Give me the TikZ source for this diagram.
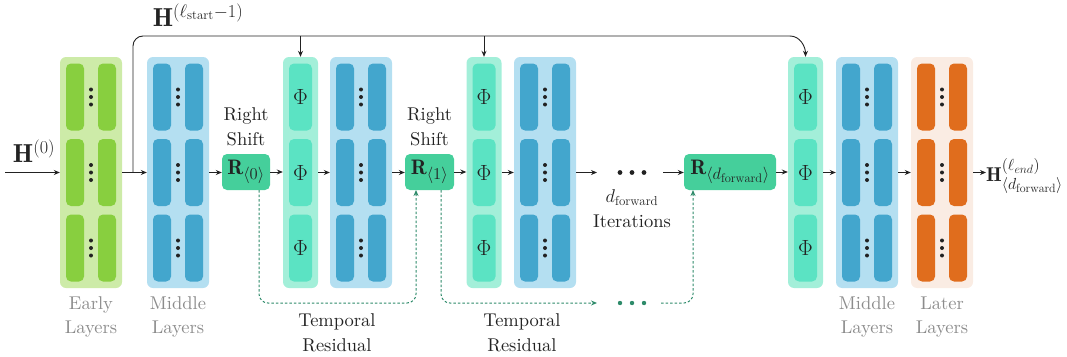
\RequirePackage{fix-cm}
\documentclass[tikz,border=0pt]{standalone}
\usepackage{amsmath}
\usepackage{fontspec}
\usetikzlibrary{arrows.meta}

% captions in the 10pt design of Latin Modern, scaled up
\newfontfamily\capfont[Extension=.otf]{lmroman10-regular}

% roomier sub/superscripts in the large formulas
\DeclareMathSizes{21}{21}{16.5}{12.5}
\DeclareMathSizes{20}{20}{16}{12}
\DeclareMathSizes{22}{22}{16}{12}

\definecolor{earlyout}{HTML}{CDEBA8}
\definecolor{earlyin}{HTML}{88CF3F}
\definecolor{midout}{HTML}{B4DFF1}
\definecolor{midin}{HTML}{43A6CD}
\definecolor{phiout}{HTML}{A3EFD9}
\definecolor{phiin}{HTML}{5BE3C3}
\definecolor{shiftfill}{HTML}{45CF9B}
\definecolor{lateout}{HTML}{FAECE3}
\definecolor{latein}{HTML}{E06D1D}
\definecolor{residcol}{HTML}{2E8B6A}
\definecolor{graytext}{HTML}{8C8C8C}
\definecolor{ink}{HTML}{222222}

\tikzset{
  outerbox/.style={rounded corners=6pt, inner sep=0pt, minimum height=231pt},
  innerbar/.style={rounded corners=5pt, inner sep=0pt, minimum height=67pt},
  shiftbox/.style={fill=shiftfill, rounded corners=5pt, inner sep=0pt, minimum height=36pt,
    font=\fontsize{21}{22}\selectfont, text=ink},
  lbl/.style={inner sep=0pt, align=center, font=\capfont\fontsize{18.5}{24.5}\selectfont, text=ink},
  graylbl/.style={lbl, text=graytext},
  flow/.style={draw=ink, line width=0.9pt, -{Stealth[length=6pt,width=5pt]}},
  resid/.style={draw=residcol, line width=1pt, dash pattern=on 2.5pt off 2pt,
    rounded corners=9pt, -{Stealth[length=6pt,width=5pt]}},
}

% a stack of three rows of two bars with vertical dots between them
\newcommand\layerstack[4]{% name, centre x, outer colour, inner colour
  \node[outerbox, fill=#3, minimum width=62pt] (#1) at (#2,172.5) {};
  \foreach \yy in {97,172.5,248} {
    \node[innerbar, fill=#4, minimum width=18pt] at (#2-16,\yy) {};
    \node[innerbar, fill=#4, minimum width=18pt] at (#2+16,\yy) {};
    \foreach \dd in {-7.5,0,7.5} \fill[ink] (#2,\yy+\dd) circle (2pt);
  }
}
% a column of three Phi blocks
\newcommand\phistack[2]{% name, centre x
  \node[outerbox, fill=phiout, minimum width=35pt] (#1) at (#2,172.5) {};
  \foreach \yy in {97,172.5,248} {
    \node[innerbar, fill=phiin, minimum width=23pt, font=\fontsize{22}{24}\selectfont, text=ink]
      at (#2,\yy) {$\Phi$};
  }
}

\begin{document}
\begin{tikzpicture}[x=1pt, y=-1pt]
\useasboundingbox (0,0) rectangle (1067,356);

% layer columns
\layerstack{early}{91}{earlyout}{earlyin}
\layerstack{midA}{178}{midout}{midin}
\phistack{phiA}{300.5}
\layerstack{midB}{361}{midout}{midin}
\phistack{phiB}{484}
\layerstack{midC}{545}{midout}{midin}
\phistack{phiC}{805.5}
\layerstack{midD}{867}{midout}{midin}
\layerstack{later}{942}{lateout}{latein}

% right-shift blocks
\node[shiftbox, minimum width=48pt] (R0) at (246,172) {$\mathbf{R}_{\langle 0\rangle}$};
\node[shiftbox, minimum width=49pt] (R1) at (429.5,172) {$\mathbf{R}_{\langle 1\rangle}$};
\node[shiftbox, minimum width=92pt] (Rd) at (730,172) {$\mathbf{R}_{\langle d_{\mathrm{forward}}\rangle}$};

\node[lbl, anchor=south] at (246,146) {Right\\Shift};
\node[lbl, anchor=south] at (429.5,146) {Right\\Shift};

% input and output
\coordinate (in) at (5,172.5);
\node[inner sep=0pt, font=\fontsize{26}{30}\selectfont, text=ink] (H0) at (34,151) {$\mathbf{H}^{(0)}$};
\node[inner sep=0pt, anchor=west, font=\fontsize{20}{22}\selectfont, text=ink] (Hout) at (986,176)
  {$\mathbf{H}^{(\ell_{end})}_{\langle d_{\mathrm{forward}}\rangle}$};

% main flow
\draw[flow] (in) -- (early.west);
\draw[flow] (early.east) -- (midA.west);
\draw[flow] (midA.east) -- (midA.east -| R0.west);
\draw[flow] (R0.east) -- (R0.east -| phiA.west);
\draw[flow] (phiA.east) -- (midB.west);
\draw[flow] (midB.east) -- (midB.east -| R1.west);
\draw[flow] (R1.east) -- (R1.east -| phiB.west);
\draw[flow] (phiB.east) -- (midC.west);
\coordinate (gapL) at (597,172.5);
\coordinate (gapR) at (663,172.5);
\draw[flow] (midC.east) -- (gapL);
\foreach \dx in {-12,0,12} \fill[ink] (632+\dx,172.5) circle (2.4pt);
\draw[flow] (gapR) -- (gapR -| Rd.west);
\draw[flow] (Rd.east) -- (Rd.east -| phiC.west);
\draw[flow] (phiC.east) -- (midD.west);
\draw[flow] (midD.east) -- (later.west);
\draw[flow] (later.east) -- (Hout.west |- later.east);

% skip connection from the early layers into every Phi block
\coordinate (branch) at (133,172.5);
\coordinate (topL) at (133,36);
\coordinate (topR) at (790,36);
\draw[draw=ink, line width=0.9pt, rounded corners=10pt] (branch) -- (topL) -- (topR);
\draw[flow] (topR) to[out=0, in=90] (phiC.north);
\draw[flow] (phiA.north |- topL) -- (phiA.north);
\draw[flow] (phiB.north |- topL) -- (phiB.north);
\node[inner sep=0pt, font=\fontsize{26}{30}\selectfont, text=ink] (Hs) at (198,15)
  {$\mathbf{H}^{(\ell_{\mathrm{start}}-1)}$};

% temporal residual paths
\coordinate (r0out) at (259,190);
\coordinate (r1in) at (416,190);
\coordinate (r1out) at (441,190);
\coordinate (rdin) at (693,190);
\draw[resid] (r0out) -- (259,303) -- (416,303) -- (r1in);
\coordinate (resgapL) at (597,303);
\coordinate (resgapR) at (661,303);
\draw[resid] (r1out) -- (441,303) -- (resgapL);
\foreach \dx in {-12,0,12} \fill[residcol] (632+\dx,303) circle (2.2pt);
\draw[resid] (resgapR) -- (693,303) -- (rdin);

% captions
\node[lbl] at (632,208.5) {$d_{\mathrm{forward}}$\\Iterations};
\node[lbl] at (337,333) {Temporal\\Residual};
\node[lbl] at (522,333) {Temporal\\Residual};
\node[graylbl] at (91,317) {Early\\Layers};
\node[graylbl] at (178,317) {Middle\\Layers};
\node[graylbl] at (867,317) {Middle\\Layers};
\node[graylbl] at (942,317) {Later\\Layers};
\end{tikzpicture}
\end{document}
